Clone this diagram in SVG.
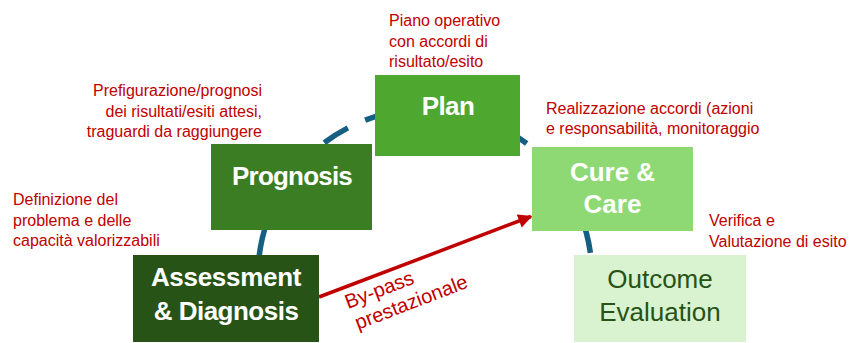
<svg xmlns="http://www.w3.org/2000/svg" width="851" height="343" viewBox="0 0 851 343">
  <defs>
    <style>
      .box-label { font-family: "Liberation Sans", Arial, sans-serif; font-weight: bold; font-size: 26px; fill: #FFFFFF; text-anchor: middle; }
      .out-label { font-family: "Liberation Sans", Arial, sans-serif; font-size: 26px; fill: #275317; text-anchor: middle; }
      .note { font-family: "Liberation Sans", Arial, sans-serif; font-size: 16px; fill: #C00000; }
      .bypass-label { font-family: "Liberation Sans", Arial, sans-serif; font-size: 20px; fill: #C00000; }
      .cycle { fill: none; stroke: #156082; stroke-width: 5.5; stroke-linecap: butt; }
      .bypass { fill: none; stroke: #C00000; stroke-width: 3.5; }
    </style>
    <marker id="arrowRed" viewBox="0 0 10 10" refX="9" refY="5" markerWidth="4.5" markerHeight="4" orient="auto" markerUnits="strokeWidth">
      <path d="M0,0 L10,5 L0,10 z" fill="#C00000"/>
    </marker>
  </defs>

  <rect width="851" height="343" fill="#FFFFFF"/>

  <g id="connectors">
    <path class="cycle" d="M324.3,142.8 A167,167 0 0 1 347.9,127.9"/>
    <path class="cycle" d="M365.1,120.1 A167,167 0 0 1 401.8,110.6"/>
    <path class="cycle" d="M498.2,125.9 A167,167 0 0 1 526.7,143.5"/>
    <path class="cycle" d="M258.6,261.4 A167,167 0 0 1 267.1,221.6"/>
    <path class="cycle" d="M579.8,213.4 A167,167 0 0 1 590.4,252.8"/>
    <line class="bypass" x1="319" y1="297" x2="531" y2="216.5" marker-end="url(#arrowRed)"/>
    <text class="bypass-label" transform="translate(348,309) rotate(-21)"><tspan x="0" y="0">By-pass</tspan><tspan x="2" y="23">prestazionale</tspan></text>
  </g>

  <g id="plan">
    <rect x="375" y="75" width="145" height="81" fill="#4EA72E"/>
    <text class="box-label" x="448" y="115" letter-spacing="-0.6">Plan</text>
  </g>

  <g id="prognosis">
    <rect x="211" y="144" width="161" height="86" fill="#3B7D23"/>
    <text class="box-label" x="292" y="185" letter-spacing="-0.8">Prognosis</text>
  </g>

  <g id="assessment">
    <rect x="133" y="255" width="186" height="87" fill="#275317"/>
    <text class="box-label" x="226" y="286" letter-spacing="-0.3">Assessment</text>
    <text class="box-label" x="226" y="320" letter-spacing="-0.5">&amp; Diagnosis</text>
  </g>

  <g id="cure-care">
    <rect x="532" y="147" width="161" height="84" fill="#8ED973"/>
    <text class="box-label" x="612.5" y="181">Cure &amp;</text>
    <text class="box-label" x="612.5" y="213">Care</text>
  </g>

  <g id="outcome">
    <rect x="574" y="255" width="172" height="87" fill="#D9F2D0"/>
    <text class="out-label" x="660" y="288">Outcome</text>
    <text class="out-label" x="660" y="321">Evaluation</text>
  </g>

  <g id="notes">
    <text class="note" text-anchor="end"><tspan x="262" y="96">Prefigurazione/prognosi</tspan><tspan x="262" y="116.5">dei risultati/esiti attesi,</tspan><tspan x="262" y="137">traguardi da raggiungere</tspan></text>
    <text class="note"><tspan x="389" y="26">Piano operativo</tspan><tspan x="389" y="46.5">con accordi di</tspan><tspan x="389" y="67">risultato/esito</tspan></text>
    <text class="note"><tspan x="546" y="113.5">Realizzazione accordi (azioni</tspan><tspan x="546" y="134">e responsabilità, monitoraggio</tspan></text>
    <text class="note"><tspan x="13" y="205">Definizione del</tspan><tspan x="13" y="225.5">problema e delle</tspan><tspan x="13" y="246">capacità valorizzabili</tspan></text>
    <text class="note"><tspan x="709" y="226">Verifica e</tspan><tspan x="709" y="246.5">Valutazione di esito</tspan></text>
  </g>
</svg>
